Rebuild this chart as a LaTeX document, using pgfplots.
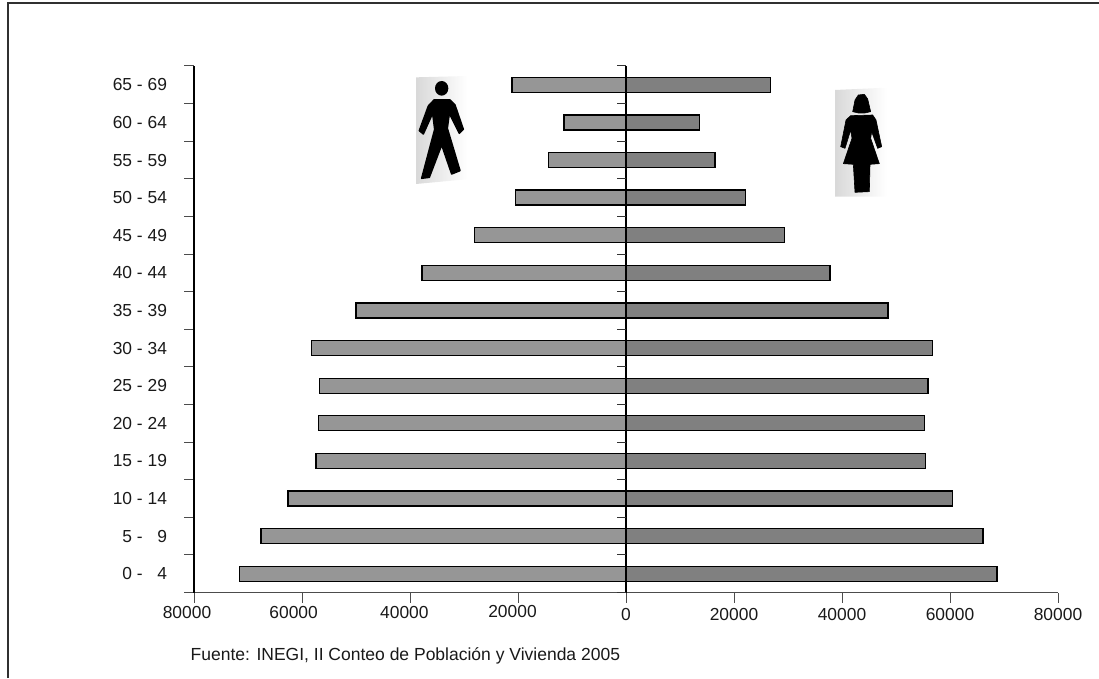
\documentclass[border=0pt]{standalone}
\usepackage{pgfplots}
\pgfplotsset{compat=1.18}
\usepackage{pgfplotstable}
\usepackage{fontspec}
\setmainfont{Liberation Sans}
\definecolor{menbar}{HTML}{969696}
\definecolor{womenbar}{HTML}{808080}
\definecolor{framec}{HTML}{303030}
\newcommand{\tl}[3]{\raisebox{#2}[12.4pt][0pt]{\makebox[0pt]{\hspace{#1}\hspace{#1}#3}}}
\pgfplotstableread{
y men women
0 -71600 68700
1 -67600 66100
2 -62600 60500
3 -57400 55500
4 -57000 55300
5 -56800 55900
6 -58300 56700
7 -50000 48500
8 -37800 37800
9 -28000 29400
10 -20500 22100
11 -14300 16500
12 -11500 13600
13 -21100 26700
}\pyr
\begin{document}
\begin{tikzpicture}[x=1pt,y=1pt]
\path[use as bounding box] (0,0) rectangle (1099,678);
\draw[framec,line width=2pt] (7.5,0) -- (7.5,674.5) -- (1099,674.5);
\begin{axis}[
  at={(194pt,85.5pt)}, anchor=south west,
  scale only axis, width=864pt, height=526.5pt,
  xmin=-80000, xmax=80000, ymin=-0.5, ymax=13.5,
  axis x line*=bottom, axis y line*=left,
  x axis line style={color=black!70,line width=1.2pt},
  y axis line style={color=black,line width=1.2pt},
  xtick={-80000,-60000,-40000,-20000,0,20000,40000,60000,80000},
  xticklabels={\tl{-7pt}{2pt}{80000},\tl{-8.4pt}{2pt}{60000},\tl{-5.6pt}{2pt}{40000},\tl{-5.5pt}{3.4pt}{20000},\tl{0pt}{0pt}{0},\tl{0pt}{0pt}{20000},\tl{0pt}{0pt}{40000},\tl{0pt}{0pt}{60000},\tl{0pt}{0pt}{80000}},
  scaled x ticks=false,
  ytick={-0.5,0.5,...,13.5},
  yticklabels={},
  extra y ticks={0,1,2,3,4,5,6,7,8,9,10,11,12,13},
  extra y tick labels={0 -~~~4,5 -~~~9,10 - 14,15 - 19,20 - 24,25 - 29,30 - 34,35 - 39,40 - 44,45 - 49,50 - 54,55 - 59,60 - 64,65 - 69},
  extra y tick style={major tick length=0pt,yticklabel style={xshift=-23.5pt}},
  tick style={color=black!70,line width=1pt},
  major tick length=10pt,
  tick align=outside,
  xtick pos=bottom, ytick pos=left,
  every tick label/.append style={font=\fontsize{17.4pt}{20pt}\selectfont, text=black!90},
  xticklabel style={yshift=-2pt},
  clip=false,
]
\addplot[xbar,bar shift=0pt,bar width=15pt,draw=black,line width=1.3pt,fill=menbar] table[x=men,y=y] {\pyr};
\addplot[xbar,bar shift=0pt,bar width=15pt,draw=black,line width=1.3pt,fill=womenbar] table[x=women,y=y] {\pyr};
\draw[black,line width=1.2pt] (axis cs:0,-0.5) -- (axis cs:0,13.5);
\pgfplotsinvokeforeach{-0.5,0.5,1.5,2.5,3.5,4.5,5.5,6.5,7.5,8.5,9.5,10.5,11.5,12.5,13.5}{
  \draw[black!80,line width=1pt] (axis cs:0,#1) -- ++(-9pt,0pt);
}
\end{axis}
\node[anchor=base west,font=\fontsize{17.5pt}{20pt}\selectfont,text=black!90,inner sep=0pt] at (190.5,18) {Fuente: INEGI, II Conteo de Población y Vivienda 2005};
% man pictogram
\begin{scope}[shift={(410,608)},x=0.3333pt,y=-0.3333pt]
\shade[left color=black!15,right color=white] (18,22) -- (172,18) -- (170,328) -- (18,342) -- cycle;
\fill[black] (95,55) circle[x radius=20,y radius=22];
\filldraw[black,line width=1.5pt,line join=round] (72,90) -- (120,90) -- (135,105) -- (160,178) -- (148,190) -- (118,130) -- (112,175) -- (150,302) -- (125,312) -- (95,225) -- (58,322) -- (35,325) -- (74,178) -- (68,130) -- (40,192) -- (28,182) -- (55,108) -- cycle;
\end{scope}
% woman pictogram
\begin{scope}[shift={(830,593)},x=0.3333pt,y=-0.3333pt]
\shade[left color=black!15,right color=white] (15,15) -- (170,8) -- (170,335) -- (15,335) -- cycle;
\filldraw[black,line width=0.6pt,line join=round] (68,80) -- (75,45) -- (85,30) -- (103,28) -- (113,42) -- (122,80) -- (105,84) -- (85,84) -- cycle;
\filldraw[black,line width=0.6pt,line join=round] (62,92) -- (128,90) -- (138,105) -- (155,185) -- (143,190) -- (125,140) -- (122,160) -- (148,236) -- (120,238) -- (118,320) -- (75,322) -- (70,238) -- (40,236) -- (66,160) -- (62,135) -- (45,190) -- (32,185) -- (48,105) -- cycle;
\end{scope}
\end{tikzpicture}
\end{document}
